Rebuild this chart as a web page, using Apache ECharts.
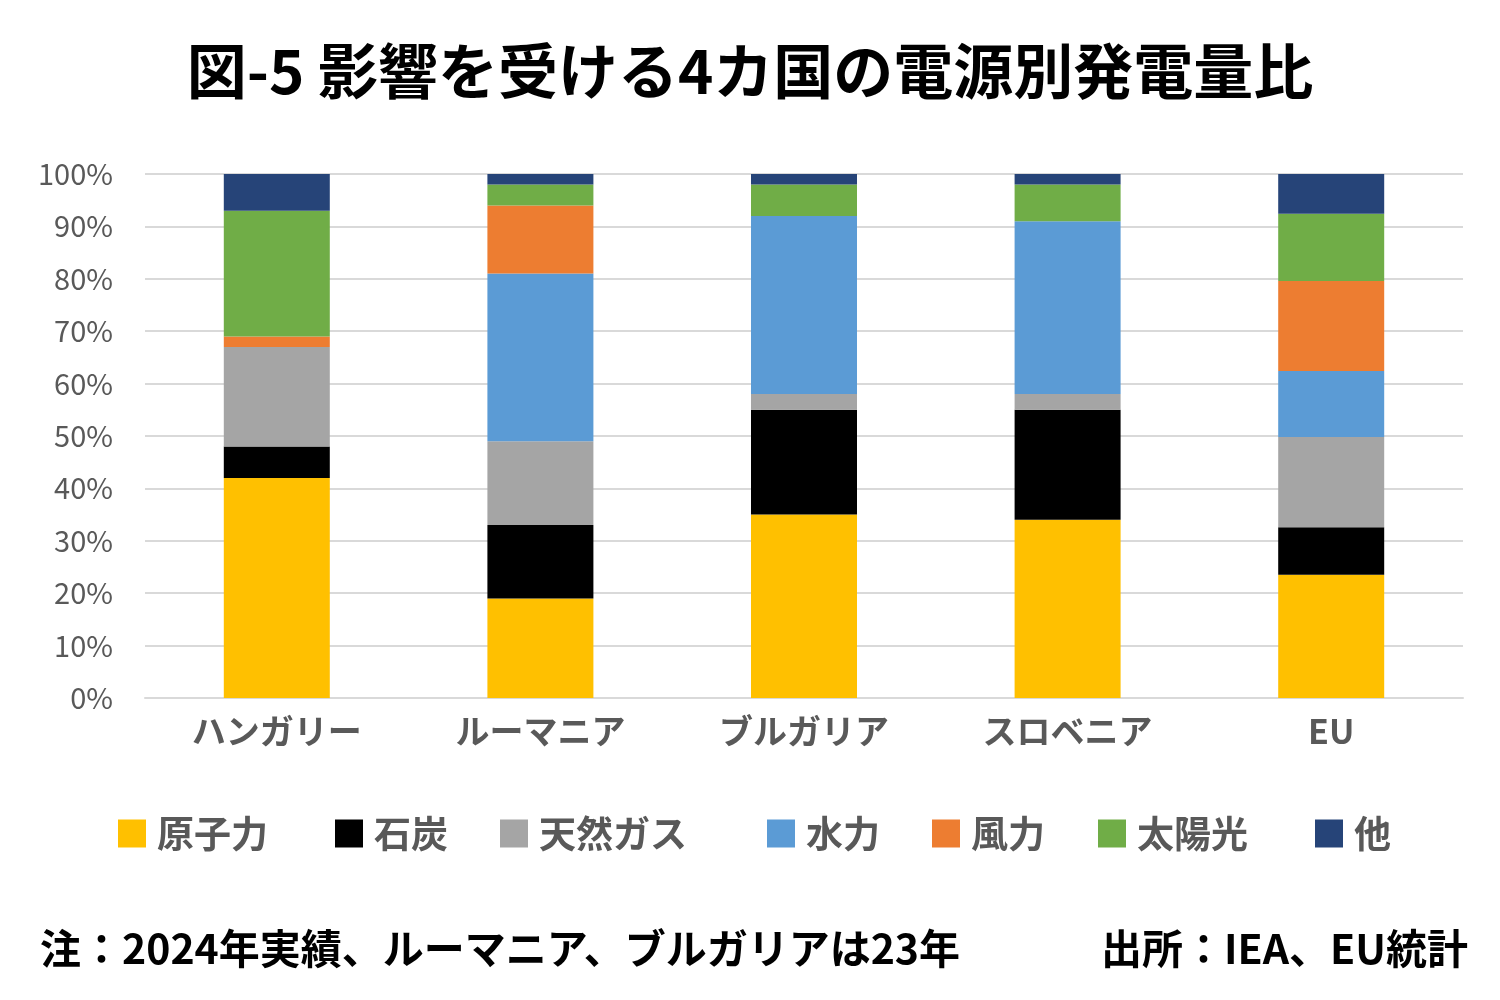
<!DOCTYPE html>
<html>
<head>
<meta charset="utf-8">
<script src="https://cdn.jsdelivr.net/npm/echarts@6/dist/echarts.min.js"></script>
<style>
  html, body { margin: 0; padding: 0; background: #fff; }
  #main { width: 1500px; height: 1000px; }
</style>
</head>
<body>
<div id="main"></div>
<script>
var FONT = '"Noto Sans CJK JP", "Noto Sans", sans-serif';

// 国・地域
var countries = ['ハンガリー', 'ルーマニア', 'ブルガリア', 'スロベニア', 'EU'];

// 電源別構成比 (%)  ハンガリー, ルーマニア, ブルガリア, スロベニア, EU
var nuclear = [42, 19, 35, 34, 23.5];
var coal    = [6, 14, 20, 21, 9.1];
var gas     = [19, 16, 3, 3, 17.2];
var hydro   = [0, 32, 34, 33, 12.6];
var wind    = [2, 13, 0, 0, 17.2];
var solar   = [24, 4, 6, 7, 12.8];
var other   = [7, 2, 2, 2, 7.6];

var seriesNames = ['原子力', '石炭', '天然ガス', '水力', '風力', '太陽光', '他'];
var seriesData = [nuclear, coal, gas, hydro, wind, solar, other];
var colors = ['#ffc000', '#000000', '#a5a5a5', '#5b9bd5', '#ed7d31', '#70ad47', '#264478'];

var titleText = '図-5 影響を受ける4カ国の電源別発電量比';
var noteText = '注：2024年実績、ルーマニア、ブルガリアは23年';
var sourceText = '出所：IEA、EU統計';

// 凡例の各項目の左端位置 (px)
var legendLefts = [118, 335, 500, 767, 932, 1098, 1315];

var chart = echarts.init(document.getElementById('main'));

var series = seriesNames.map(function (name, i) {
    return {
        name: name,
        type: 'bar',
        stack: 'total',
        barWidth: 106,
        data: seriesData[i],
        itemStyle: { color: colors[i] }
    };
});

var legends = seriesNames.map(function (name, i) {
    return {
        data: [name],
        left: legendLefts[i],
        top: 815,
        padding: 0,
        itemWidth: 28,
        itemHeight: 28,
        itemGap: 0,
        icon: 'rect',
        selectedMode: false,
        textStyle: { fontFamily: FONT, fontSize: 37, fontWeight: 'bold', color: '#595959', padding: [0, 0, 0, 6] }
    };
});

chart.setOption({
    animation: false,
    color: colors,
    title: {
        text: titleText,
        left: 'center',
        top: 36,
        textStyle: { fontFamily: FONT, fontSize: 60, fontWeight: 'bold', color: '#000' }
    },
    legend: legends,
    grid: { left: 145, right: 37, top: 174, bottom: 302 },
    xAxis: {
        type: 'category',
        data: countries,
        axisLine: { lineStyle: { color: '#d9d9d9', width: 2 } },
        axisTick: { show: false },
        axisLabel: { fontFamily: FONT, fontSize: 34, fontWeight: 'bold', color: '#595959', margin: 16 }
    },
    yAxis: {
        type: 'value',
        min: 0,
        max: 100,
        interval: 10,
        axisLine: { show: false },
        axisTick: { show: false },
        splitLine: { lineStyle: { color: '#d9d9d9', width: 2 } },
        axisLabel: { fontFamily: FONT, fontSize: 29, color: '#595959', margin: 32, formatter: '{value}%' }
    },
    graphic: [
        {
            type: 'text',
            left: 40,
            top: 928,
            style: { text: noteText, fontFamily: FONT, fontSize: 41, fontWeight: 'bold', fill: '#000' }
        },
        {
            type: 'text',
            right: 32,
            top: 928,
            style: { text: sourceText, fontFamily: FONT, fontSize: 41, fontWeight: 'bold', fill: '#000' }
        }
    ],
    series: series
});
</script>
</body>
</html>
